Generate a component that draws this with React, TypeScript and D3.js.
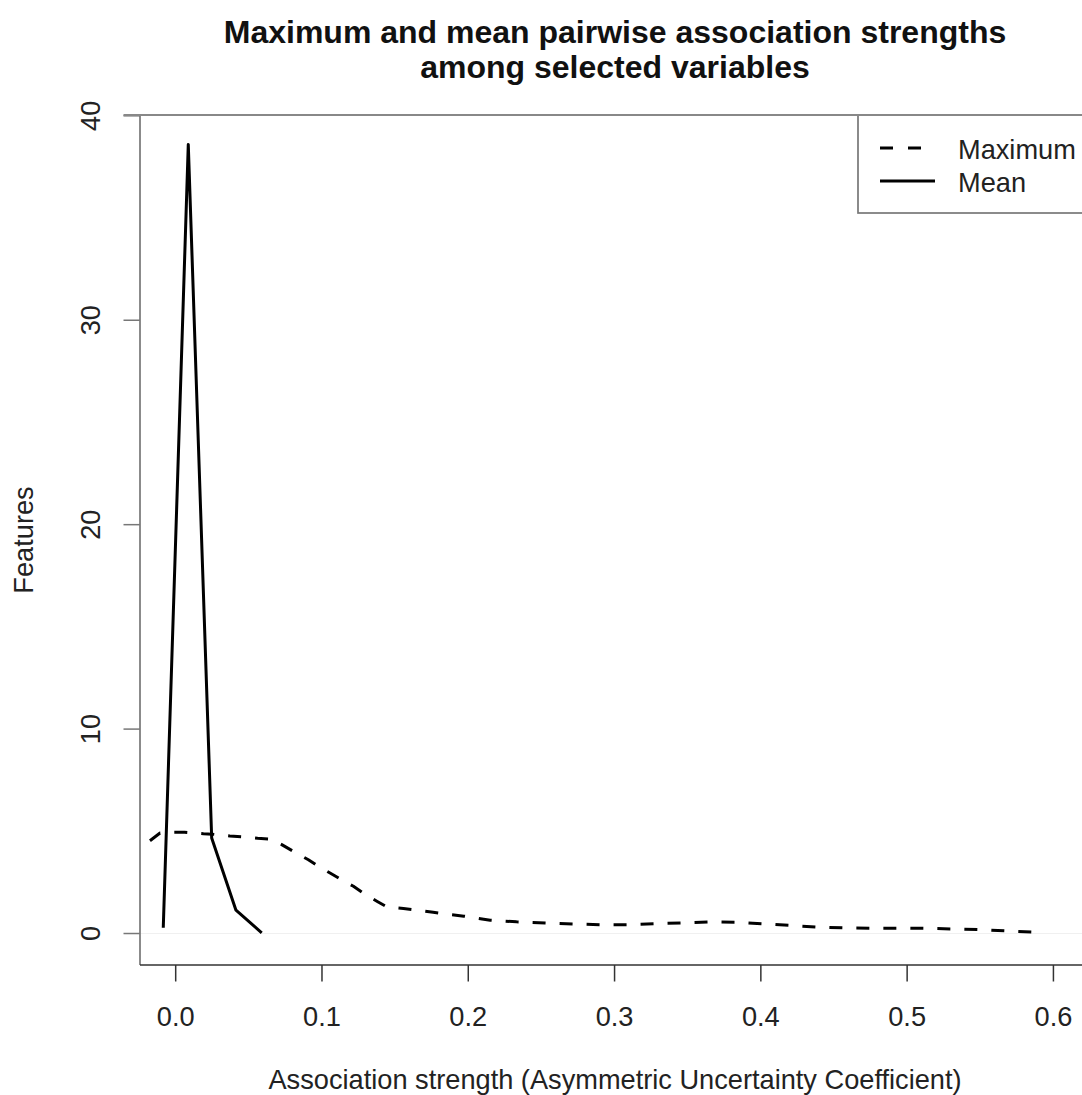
import React from "react";
import * as d3 from "d3";

const maxX = [-0.0176, -0.0107, -0.001, 0.006, 0.019, 0.025, 0.037, 0.047, 0.056, 0.065, 0.0725, 0.0804, 0.0907, 0.0964, 0.1055, 0.1124, 0.1215, 0.128, 0.1375, 0.1443, 0.1557, 0.1648, 0.176, 0.197, 0.215, 0.233, 0.2526, 0.2715, 0.29, 0.309, 0.328, 0.3465, 0.365, 0.384, 0.4026, 0.421, 0.44, 0.459, 0.478, 0.4966, 0.515, 0.534, 0.553, 0.572, 0.593];
const maxY = [4.54, 4.92, 4.95, 4.95, 4.88, 4.86, 4.77, 4.72, 4.66, 4.62, 4.35, 4.02, 3.61, 3.34, 2.96, 2.67, 2.31, 1.99, 1.58, 1.30, 1.22, 1.14, 1.04, 0.85, 0.65, 0.57, 0.52, 0.47, 0.43, 0.43, 0.48, 0.52, 0.57, 0.55, 0.47, 0.39, 0.31, 0.27, 0.26, 0.26, 0.25, 0.22, 0.18, 0.11, 0.05];

const meanX = [-0.0085, 0.0086, 0.0246, 0.0412, 0.0588];
const meanY = [0.28, 38.6, 4.67, 1.14, 0.03];

const xTicks = [0, 0.1, 0.2, 0.3, 0.4, 0.5, 0.6];
const yTicks = [0, 10, 20, 30, 40];
const legendLabels = ["Maximum", "Mean"];

const titleLines = [
  "Maximum and mean pairwise association strengths",
  "among selected variables",
];
const xLabel = "Association strength (Asymmetric Uncertainty Coefficient)";
const yLabel = "Features";

const W = 1082;
const H = 1095;
const L = 140, R = 1090, T = 115, B = 965;
const FONT = "'Liberation Sans', Arial, Helvetica, sans-serif";
const FS = 27.2;

export default function App() {
  const x = d3.scaleLinear().domain([-0.0244, 0.625]).range([L, R]);
  const y = d3.scaleLinear().domain([-1.54, 40.04]).range([B, T]);

  const line = d3
    .line<[number, number]>()
    .x((d) => x(d[0]))
    .y((d) => y(d[1]));

  const maxPts: [number, number][] = maxX.map((v, i) => [v, maxY[i]]);
  const meanPts: [number, number][] = meanX.map((v, i) => [v, meanY[i]]);

  const legX = 858;
  return (
    <svg
      width={W}
      height={H}
      style={{ position: "absolute", left: 0, top: 0, background: "#fff" }}
      fontFamily={FONT}
    >
      <rect x={0} y={0} width={W} height={H} fill="#fff" />
      {/* faint zero line */}
      <line x1={L} x2={R} y1={y(0)} y2={y(0)} stroke="#f0f0f0" strokeWidth={1.2} />

      {/* box */}
      <line x1={L} x2={L} y1={T} y2={B} stroke="#777" strokeWidth={1.7} />
      <line x1={L} x2={R} y1={B} y2={B} stroke="#333" strokeWidth={1.7} />

      {/* x ticks */}
      {xTicks.map((t) => (
        <g key={"x" + t}>
          <line x1={x(t)} x2={x(t)} y1={B} y2={B + 16.5} stroke="#333" strokeWidth={1.5} />
          <text x={x(t)} y={1026} textAnchor="middle" fontSize={FS} fill="#222">
            {t.toFixed(1)}
          </text>
        </g>
      ))}

      {/* y ticks */}
      {yTicks.map((t) => (
        <g key={"y" + t}>
          <line x1={L - 16.5} x2={L} y1={y(t)} y2={y(t)} stroke="#777" strokeWidth={1.5} />
          <text
            transform={`translate(100,${y(t)}) rotate(-90)`}
            textAnchor="middle"
            fontSize={FS}
            fill="#222"
          >
            {t}
          </text>
        </g>
      ))}

      {/* data */}
      <path
        d={line(maxPts) || ""}
        fill="none"
        stroke="#000"
        strokeWidth={3}
        strokeDasharray="13,14"
        strokeLinejoin="round"
      />
      <path
        d={line(meanPts) || ""}
        fill="none"
        stroke="#000"
        strokeWidth={3}
        strokeLinejoin="round"
      />

      {/* legend */}
      <rect x={legX} y={T} width={R - legX + 10} height={213 - T} fill="#fff" stroke="#777" strokeWidth={1.7} />
      <line x1={L - 16.5} x2={R} y1={T} y2={T} stroke="#888" strokeWidth={1.9} />
      <line x1={880} x2={935} y1={148} y2={148} stroke="#000" strokeWidth={3} strokeDasharray="13,15" />
      <line x1={880} x2={935} y1={181} y2={181} stroke="#000" strokeWidth={3} />
      <text x={958} y={159} fontSize={FS} fill="#222">{legendLabels[0]}</text>
      <text x={958} y={192} fontSize={FS} fill="#222">{legendLabels[1]}</text>

      {/* titles */}
      {titleLines.map((s, i) => (
        <text
          key={i}
          x={(L + R) / 2}
          y={43 + i * 35}
          textAnchor="middle"
          fontSize={32}
          fontWeight="bold"
          fill="#111"
        >
          {s}
        </text>
      ))}
      <text x={(L + R) / 2} y={1089} textAnchor="middle" fontSize={FS} fill="#222">
        {xLabel}
      </text>
      <text
        transform={`translate(33,540) rotate(-90)`}
        textAnchor="middle"
        fontSize={FS}
        fill="#222"
      >
        {yLabel}
      </text>
    </svg>
  );
}
